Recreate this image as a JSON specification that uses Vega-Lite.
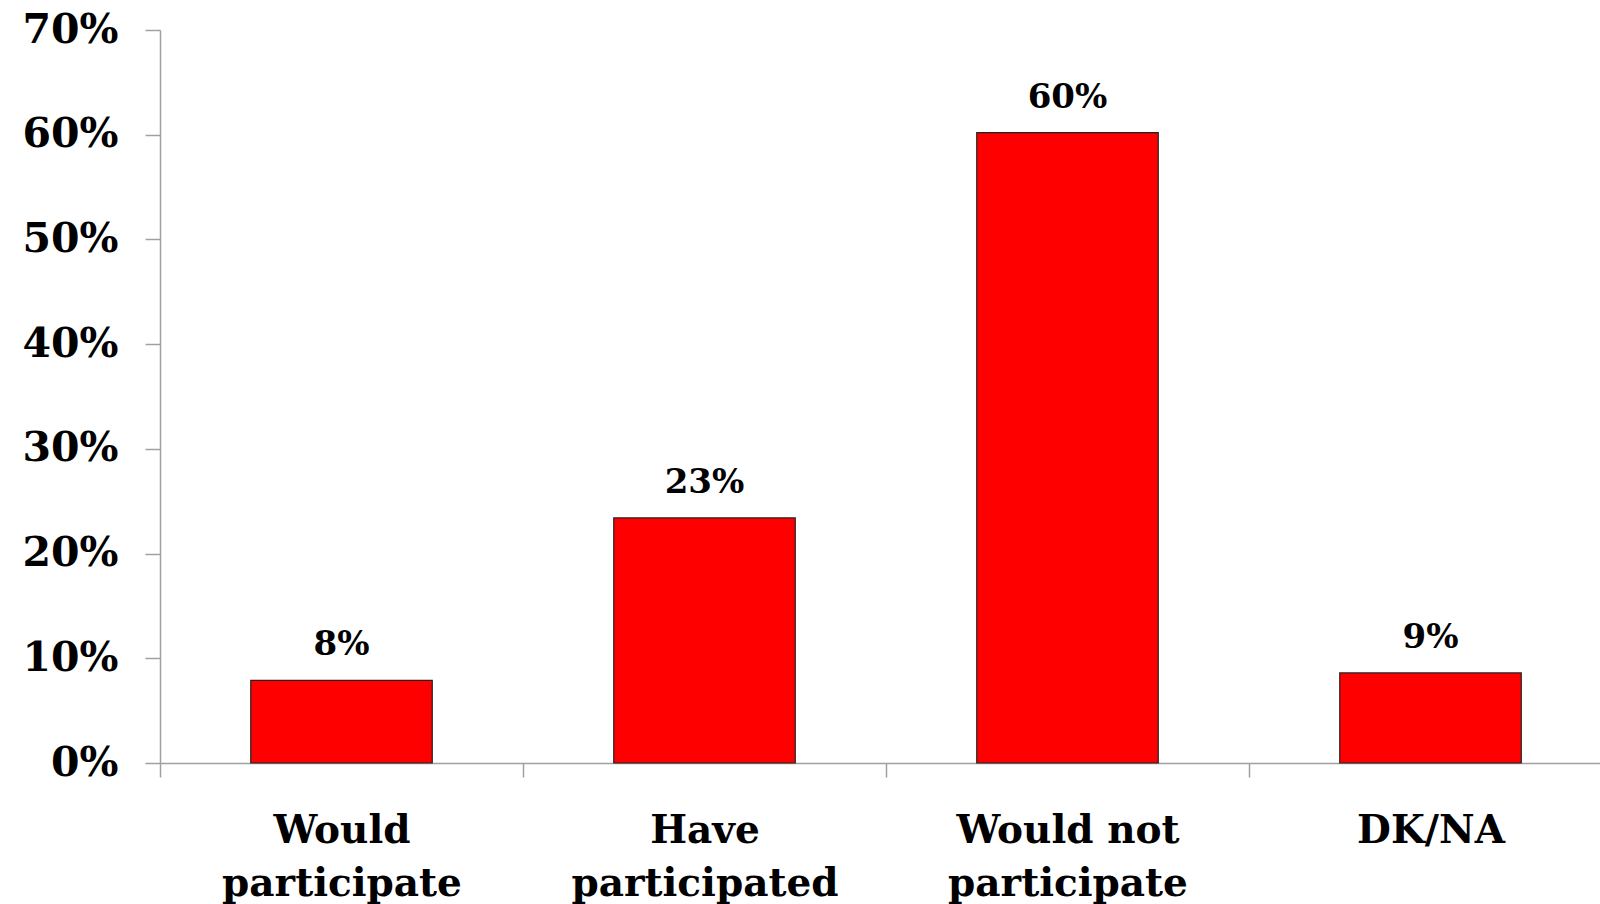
{
  "$schema": "https://vega.github.io/schema/vega-lite/v6.json",
  "autosize": "none",
  "width": 1440,
  "height": 733,
  "padding": {"left": 160, "top": 30, "right": 0, "bottom": 141},
  "background": "white",
  "config": {"view": {"stroke": null}, "font": "DejaVu Serif"},
  "data": {"values": [
    {"category": "Would participate", "value": 0.079},
    {"category": "Have participated", "value": 0.234},
    {"category": "Would not participate", "value": 0.602},
    {"category": "DK/NA", "value": 0.086}
  ]},
  "encoding": {
    "x": {"field": "category", "type": "nominal", "sort": null,
      "scale": {"paddingInner": 0, "paddingOuter": 0, "range": [0, 1452]},
      "axis": {"title": null, "labelAngle": 0, "labelFont": "DejaVu Serif", "labelFontWeight": "bold", "labelFontSize": 39, "labelColor": "black", "labelPadding": 34, "labelLineHeight": 53, "labelBaseline": "top", "labelLimit": 0,
        "labelExpr": "datum.label == 'Would not participate' ? ['Would not', 'participate'] : split(datum.label, ' ')",
        "domainColor": "#a0a0a0", "tickColor": "#a0a0a0", "tickSize": 14, "tickBand": "extent", "domainWidth": 1.5, "tickWidth": 1.5}},
    "y": {"field": "value", "type": "quantitative",
      "scale": {"domain": [0, 0.7]},
      "axis": {"title": null, "format": ".0%", "values": [0, 0.1, 0.2, 0.3, 0.4, 0.5, 0.6, 0.7], "grid": false, "labelFont": "DejaVu Serif", "labelFontWeight": "bold", "labelFontSize": 41, "labelColor": "black", "labelPadding": 27, "tickSize": 15, "domainColor": "#a0a0a0", "tickColor": "#a0a0a0", "domainWidth": 1.5, "tickWidth": 1.5}}
  },
  "layer": [
    {"mark": {"type": "bar", "color": "#ff0000", "stroke": "#222222", "strokeWidth": 1.2, "width": {"band": 0.5}}},
    {"mark": {"type": "text", "baseline": "alphabetic", "dy": -25, "font": "DejaVu Serif", "fontWeight": "bold", "fontSize": 34, "color": "black"},
      "encoding": {"text": {"field": "value", "type": "quantitative", "format": ".0%"}}}
  ]
}
